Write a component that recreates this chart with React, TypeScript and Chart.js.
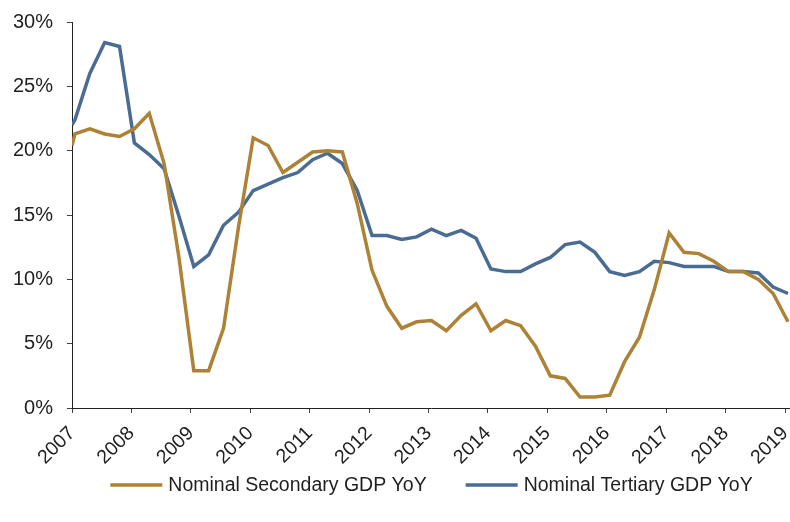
import React, { useEffect, useRef } from "react";
import { Chart, registerables } from "chart.js";

Chart.register(...registerables);

// Period positions in decimal years (first value is the series start, then quarterly observations)
const periodYears = [
  2007.0, 2007.05, 2007.3, 2007.55, 2007.8,
  2008.05, 2008.3, 2008.55, 2008.8,
  2009.05, 2009.3, 2009.55, 2009.8,
  2010.05, 2010.3, 2010.55, 2010.8,
  2011.05, 2011.3, 2011.55, 2011.8,
  2012.05, 2012.3, 2012.55, 2012.8,
  2013.05, 2013.3, 2013.55, 2013.8,
  2014.05, 2014.3, 2014.55, 2014.8,
  2015.05, 2015.3, 2015.55, 2015.8,
  2016.05, 2016.3, 2016.55, 2016.8,
  2017.05, 2017.3, 2017.55, 2017.8,
  2018.05, 2018.3, 2018.55, 2018.8,
  2019.05,
];

const secondaryYoY = [
  20.4, 21.3, 21.7, 21.3, 21.1,
  21.7, 22.9, 19.0, 11.7,
  2.9, 2.9, 6.2, 14.0,
  21.0, 20.4, 18.3, 19.1,
  19.9, 20.0, 19.9, 15.9,
  10.7, 7.9, 6.2, 6.7,
  6.8, 6.0, 7.2, 8.1,
  6.0, 6.8, 6.4, 4.8,
  2.5, 2.3, 0.85, 0.85,
  1.0, 3.6, 5.5, 9.2,
  13.6, 12.1, 12.0, 11.4,
  10.6, 10.6, 10.0, 8.9,
  6.7,
];

const tertiaryYoY = [
  22.0, 22.4, 26.0, 28.4, 28.1,
  20.6, 19.7, 18.6, 14.9,
  11.0, 11.9, 14.2, 15.2,
  16.9, 17.4, 17.9, 18.3,
  19.3, 19.8, 19.0, 16.9,
  13.4, 13.4, 13.1, 13.3,
  13.9, 13.4, 13.8, 13.2,
  10.8, 10.6, 10.6, 11.2,
  11.7, 12.7, 12.9, 12.1,
  10.6, 10.3, 10.6, 11.4,
  11.3, 11.0, 11.0, 11.0,
  10.6, 10.6, 10.5, 9.4,
  8.9,
];

const tickYears = [2007, 2008, 2009, 2010, 2011, 2012, 2013, 2014, 2015, 2016, 2017, 2018, 2019];
const yTicks = [0, 5, 10, 15, 20, 25, 30];

const seriesNames = ["Nominal Secondary GDP YoY", "Nominal Tertiary GDP YoY"];
const GOLD = "#AE8236";
const BLUE = "#4A6C93";
const TEXT = "#1f1f1f";
const FONT = "'Liberation Sans', Arial, sans-serif";

const lineLegend = {
  id: "lineLegend",
  afterDraw(chart: any) {
    const { ctx, chartArea } = chart;
    const fontSize = 19.5;
    const boxW = 52;
    const gapText = 6;
    const gapItem = 39;
    const y = 485;
    ctx.save();
    ctx.font = `${fontSize}px ${FONT}`;
    const items = chart.data.datasets.map((ds: any) => ({
      text: ds.label as string,
      color: ds.borderColor as string,
      w: ctx.measureText(ds.label).width,
    }));
    const total =
      items.reduce((s: number, it: any) => s + boxW + gapText + it.w, 0) + gapItem * (items.length - 1);
    let x = (chartArea.left + chartArea.right) / 2 + 0.5 - total / 2;
    ctx.textBaseline = "middle";
    ctx.textAlign = "left";
    for (const it of items) {
      ctx.fillStyle = it.color;
      ctx.fillRect(x, y - 1.75, boxW, 3.5);
      ctx.fillStyle = TEXT;
      ctx.fillText(it.text, x + boxW + gapText, y + 1);
      x += boxW + gapText + it.w + gapItem;
    }
    ctx.restore();
  },
};

export default function App() {
  const ref = useRef<HTMLCanvasElement>(null);

  useEffect(() => {
    const canvas = ref.current;
    if (!canvas) return;
    const chart = new Chart(canvas, {
      type: "line",
      data: {
        datasets: [
          {
            label: seriesNames[0],
            data: periodYears.map((x, i) => ({ x, y: secondaryYoY[i] })),
            borderColor: GOLD,
            backgroundColor: GOLD,
            borderWidth: 3.5,
            pointRadius: 0,
            tension: 0,
          },
          {
            label: seriesNames[1],
            data: periodYears.map((x, i) => ({ x, y: tertiaryYoY[i] })),
            borderColor: BLUE,
            backgroundColor: BLUE,
            borderWidth: 3.5,
            pointRadius: 0,
            tension: 0,
          },
        ],
      },
      options: {
        responsive: false,
        animation: false,
        layout: { padding: { top: 22, right: 0, bottom: 0, left: 0 } },
        plugins: {
          tooltip: { enabled: false },
          legend: { display: false },
        },
        scales: {
          x: {
            type: "linear",
            min: 2007,
            max: 2019.084,
            afterBuildTicks: (s: any) => {
              s.ticks = tickYears.map((v) => ({ value: v }));
            },
            afterFit: (s: any) => {
              s.height = 114;
              s.paddingLeft = 0;
              s.paddingRight = 0;
            },
            ticks: {
              minRotation: 45,
              maxRotation: 45,
              padding: 9,
              color: TEXT,
              font: { family: FONT, size: 19.5 },
              callback: (v: any) => String(v),
            },
            grid: { drawOnChartArea: false, drawTicks: true, tickLength: 5, color: "#444" },
            border: { color: "#222", width: 1 },
          },
          y: {
            min: 0,
            max: 30,
            afterBuildTicks: (s: any) => {
              s.ticks = yTicks.map((v) => ({ value: v }));
            },
            afterFit: (s: any) => {
              s.width = 72;
              s.paddingTop = 0;
              s.paddingBottom = 0;
            },
            ticks: {
              padding: 14,
              color: TEXT,
              font: { family: FONT, size: 20 },
              callback: (v: any) => v + "%",
            },
            grid: { drawOnChartArea: false, drawTicks: true, tickLength: 5, color: "#444" },
            border: { color: "#222", width: 1 },
          },
        },
      },
      plugins: [lineLegend],
    });
    return () => chart.destroy();
  }, []);

  return (
    <div style={{ position: "fixed", left: 0, top: 0, width: 790, height: 522, background: "#fff" }}>
      <canvas ref={ref} width={790} height={522} />
    </div>
  );
}
